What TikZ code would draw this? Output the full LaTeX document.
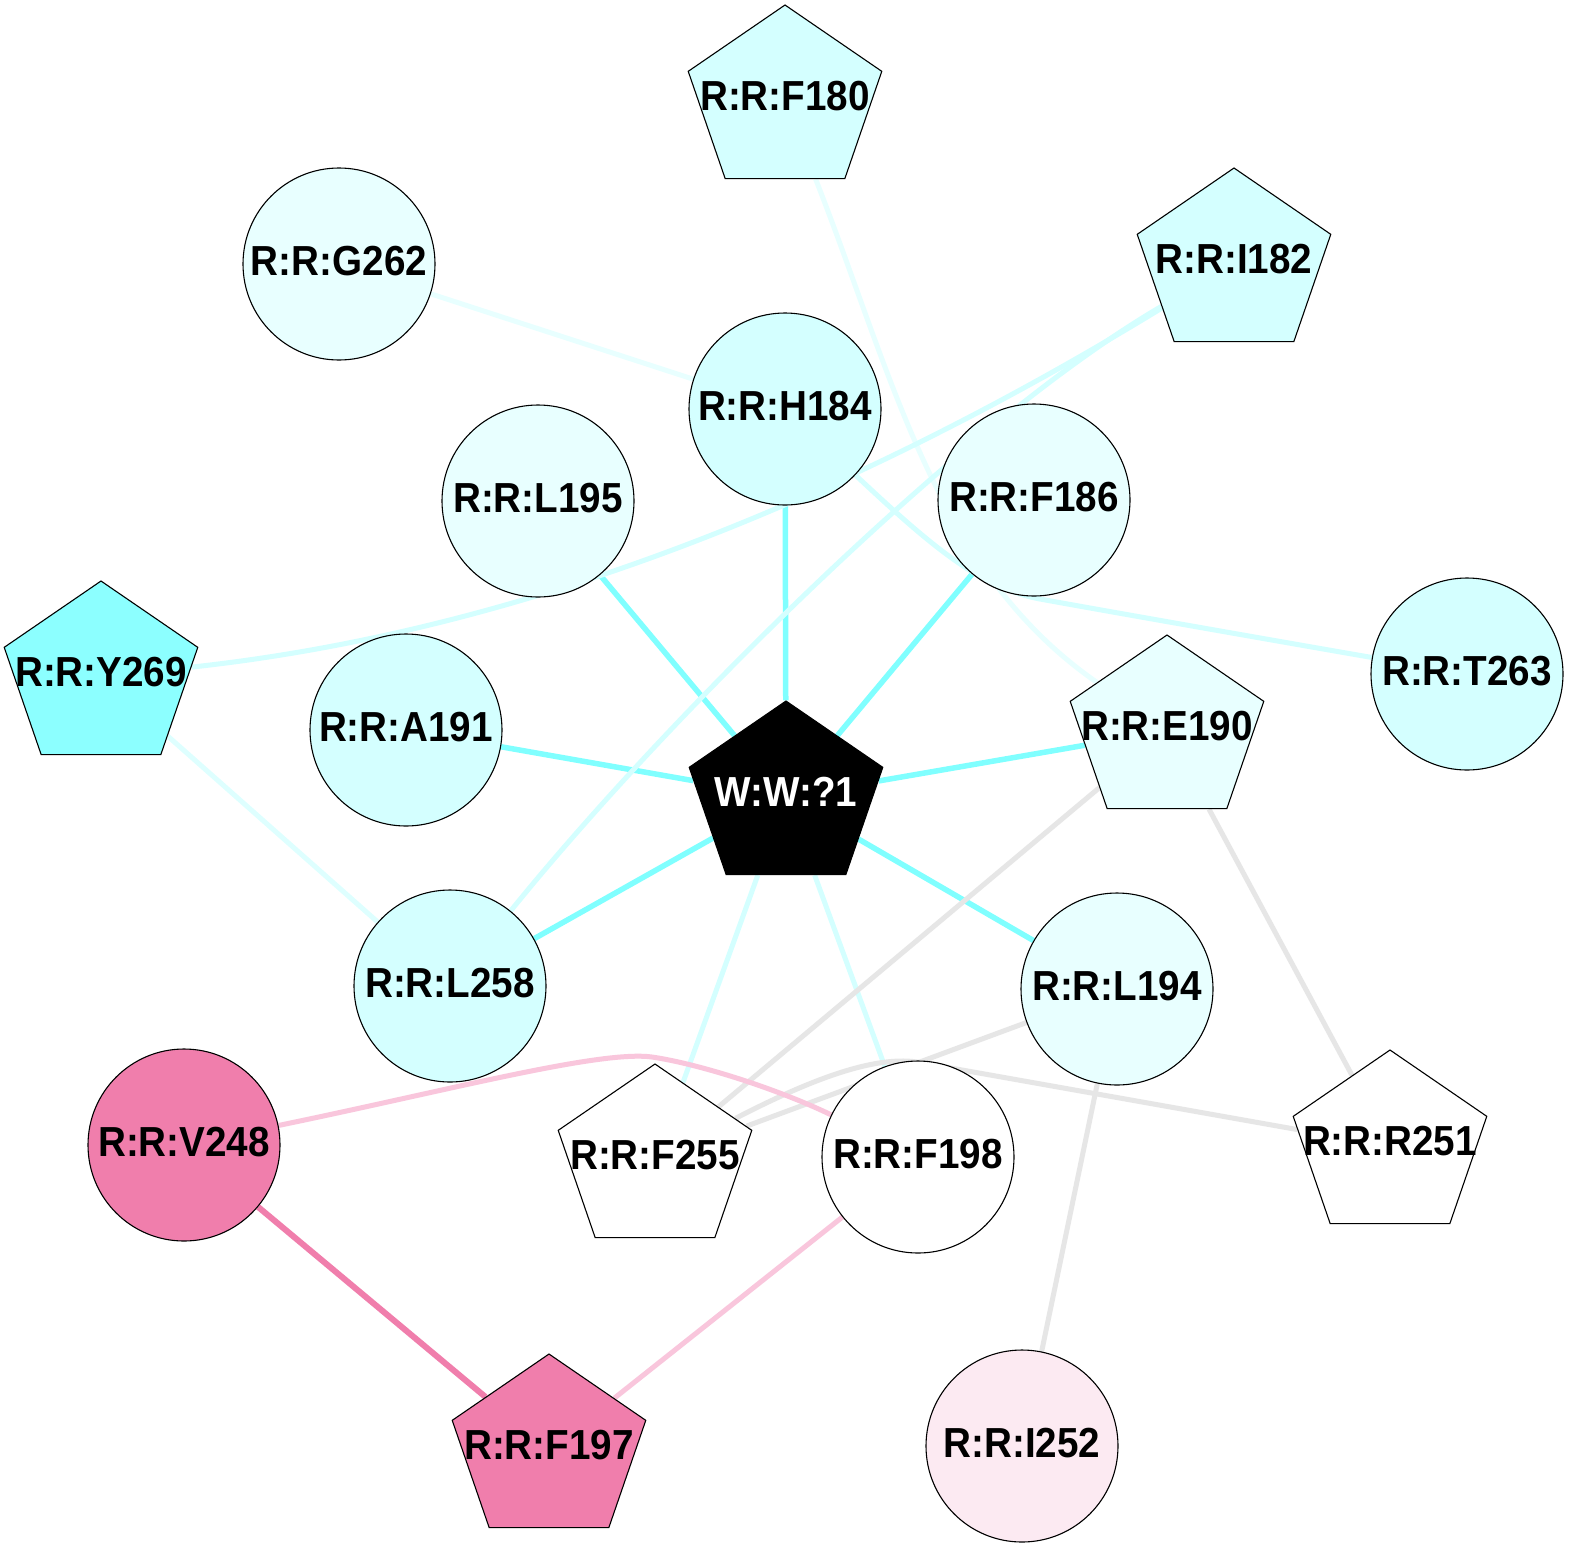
\documentclass[tikz,border=0pt]{standalone}
\usepackage{fontspec}
\usepackage{graphicx}
\usetikzlibrary{shapes.geometric}
\newfontfamily\labelfont{Liberation Sans}[FakeStretch=0.92]
\pgfdeclarelayer{bg}
\pgfsetlayers{bg,main}
\definecolor{cyanA}{RGB}{128,255,255}
\definecolor{cyanY}{RGB}{140,255,255}
\definecolor{cyanB}{RGB}{212,255,255}
\definecolor{cyanL}{RGB}{222,255,255}
\definecolor{cyanC}{RGB}{232,255,255}
\definecolor{pinkA}{RGB}{240,126,172}
\definecolor{pinkB}{RGB}{249,198,220}
\definecolor{pinkC}{RGB}{252,234,242}
\definecolor{grayE}{RGB}{230,230,230}
\newcommand\clab[1]{\makebox[0pt]{\raisebox{-11.3pt}[0pt][0pt]{#1}}}
\newcommand\plab[1]{\makebox[0pt]{\raisebox{-9.5pt}[0pt][0pt]{\scalebox{0.9434}[1]{#1}}}}
\newcommand\pentnode[5]{\begin{scope}[shift={(#2,#3)}]\node[pent,#4] (#1) at (0,0) {\plab{#5}};\end{scope}}
\begin{document}
\begin{tikzpicture}[x=1pt,y=-1pt,
  font={\labelfont\bfseries\fontsize{42pt}{48pt}\selectfont},
  circ/.style={circle,draw=black,line width=1.1pt,minimum size=192pt,inner sep=0pt},
  pent/.style={regular polygon,regular polygon sides=5,draw=black,line width=1.1pt,minimum size=192pt,inner sep=0pt,xscale=1.06},
  edge/.style={line width=5pt},
  strong/.style={line width=5.5pt,cyanA}]
\useasboundingbox (0,0) rectangle (1574,1553);
% circle nodes
\node[circ,fill=cyanC] (g262) at (339,264) {\clab{R:R:G262}};
\node[circ,fill=cyanB] (h184) at (785,409) {\clab{R:R:H184}};
\node[circ,fill=cyanC] (l195) at (538,501) {\clab{R:R:L195}};
\node[circ,fill=cyanC] (f186) at (1034,500) {\clab{R:R:F186}};
\node[circ,fill=cyanB] (t263) at (1467,674) {\clab{R:R:T263}};
\node[circ,fill=cyanB] (a191) at (406,730) {\clab{R:R:A191}};
\node[circ,fill=cyanB] (l258) at (450,986) {\clab{R:R:L258}};
\node[circ,fill=cyanC] (l194) at (1117,989) {\clab{R:R:L194}};
\node[circ,fill=pinkA] (v248) at (184,1145) {\clab{R:R:V248}};
\node[circ,fill=white] (f198) at (918,1157) {\clab{R:R:F198}};
\node[circ,fill=pinkC] (i252) at (1022,1446) {\clab{R:R:I252}};
% pentagon nodes
\pentnode{f180}{785}{101}{fill=cyanB}{R:R:F180}
\pentnode{i182}{1234}{264}{fill=cyanB}{R:R:I182}
\pentnode{y269}{101}{677}{fill=cyanY}{R:R:Y269}
\pentnode{e190}{1167}{731}{fill=cyanC}{R:R:E190}
\pentnode{w}{786}{797}{fill=black,text=white}{W:W:?1}
\pentnode{f255}{655}{1160}{fill=white}{R:R:F255}
\pentnode{r251}{1390}{1146}{fill=white}{R:R:R251}
\pentnode{f197}{549}{1450}{fill=pinkA}{R:R:F197}
% edges
\begin{pgfonlayer}{bg}
\fill[white] (0,0) rectangle (1574,1553);
\draw[strong] (w) -- (h184);
\draw[strong] (w) -- (l195);
\draw[strong] (w) -- (f186);
\draw[strong] (w) -- (a191);
\draw[strong] (w) -- (e190);
\draw[strong] (w) -- (l258);
\draw[strong] (w) -- (l194);
\draw[edge,cyanB] (w) -- (f255);
\draw[edge,cyanB] (w) -- (f198);
\draw[edge,cyanC] (g262) -- (h184);
\draw[edge,cyanL] (y269) -- (l258);
\draw[edge,cyanC] (f180) .. controls (894,379) and (935,570) .. (e190);
\draw[edge,cyanB] (i182) .. controls (960,424) and (660,726) .. (l258);
\draw[edge,cyanB] (y269) .. controls (550,628) and (880,480) .. (i182);
\draw[edge,cyanB] (h184) .. controls (930,545) and (980,588) .. (1040,599) .. controls (1100,610) and (1300,645) .. (t263);
\draw[edge,grayE] (e190) -- (f255);
\draw[edge,grayE] (e190) -- (r251);
\draw[edge,grayE] (l194) -- (f255);
\draw[edge,grayE] (f255) .. controls (800,1085) and (870,1055) .. (917,1062) -- (r251);
\draw[edge,grayE] (l194) -- (i252);
\draw[line width=6pt,pinkA] (v248) -- (f197);
\draw[edge,pinkB] (f198) -- (f197);
\draw[edge,pinkB] (v248) .. controls (450,1090) and (600,1050) .. (652,1057) .. controls (700,1064) and (780,1090) .. (f198);
\end{pgfonlayer}
\end{tikzpicture}
\end{document}
